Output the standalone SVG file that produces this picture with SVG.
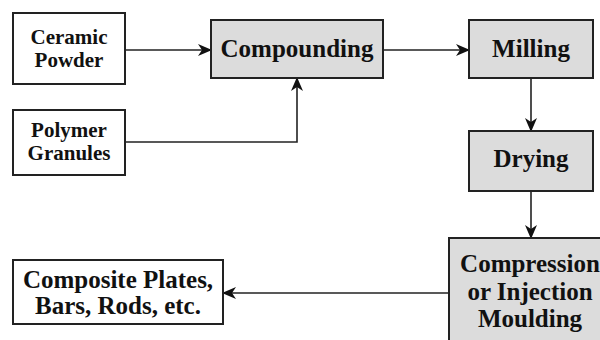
<svg xmlns="http://www.w3.org/2000/svg" width="600" height="340" viewBox="0 0 600 340">
<defs>
<style>
.box{stroke:#222;stroke-width:2}
.w{fill:#fff}
.g{fill:#dcdcdc}
.t text{font-weight:bold;fill:#111;text-anchor:middle}
.s{font-size:21px}
.l{font-size:25px}
.c{fill:none;stroke:#222;stroke-width:1.6}
</style>
<marker id="ah" markerUnits="userSpaceOnUse" markerWidth="14" markerHeight="12" refX="13" refY="6" orient="auto">
<path d="M0,0 L14,6 L0,12 L4,6 z" fill="#111"/>
</marker>
</defs>
<rect width="600" height="340" fill="#fff"/>
<g id="connectors">
<line class="c" x1="125" y1="50" x2="211" y2="50" marker-end="url(#ah)"/>
<polyline class="c" points="125,142 297,142 297,78" marker-end="url(#ah)"/>
<line class="c" x1="383" y1="50" x2="469" y2="50" marker-end="url(#ah)"/>
<line class="c" x1="531" y1="78" x2="531" y2="131" marker-end="url(#ah)"/>
<line class="c" x1="531" y1="191" x2="531" y2="238" marker-end="url(#ah)"/>
<line class="c" x1="449" y1="293" x2="223" y2="293" marker-end="url(#ah)"/>
</g>
<g class="t" font-family="Liberation Serif, Times New Roman, DejaVu Serif, serif">
<g id="ceramic">
<rect class="box w" x="13" y="13" width="112" height="71"/>
<text class="s" x="69" y="44">Ceramic</text>
<text class="s" x="69" y="67">Powder</text>
</g>
<g id="polymer">
<rect class="box w" x="13" y="110" width="112" height="65"/>
<text class="s" x="69" y="137">Polymer</text>
<text class="s" x="69" y="160">Granules</text>
</g>
<g id="compounding">
<rect class="box g" x="211" y="20" width="172" height="58"/>
<text class="l" x="297" y="57">Compounding</text>
</g>
<g id="milling">
<rect class="box g" x="469" y="20" width="124" height="58"/>
<text class="l" x="531" y="57">Milling</text>
</g>
<g id="drying">
<rect class="box g" x="469" y="131" width="124" height="60"/>
<text class="l" x="531" y="167">Drying</text>
</g>
<g id="moulding">
<rect class="box g" x="449" y="238" width="165" height="120"/>
<text class="l" x="530" y="272">Compression</text>
<text class="l" x="530" y="300">or Injection</text>
<text class="l" x="530" y="327">Moulding</text>
</g>
<g id="composite">
<rect class="box w" x="13" y="260" width="210" height="64"/>
<text class="l" x="118" y="288" font-size="24">Composite Plates,</text>
<text class="l" x="118" y="314" font-size="24">Bars, Rods, etc.</text>
</g>
</g>
</svg>
